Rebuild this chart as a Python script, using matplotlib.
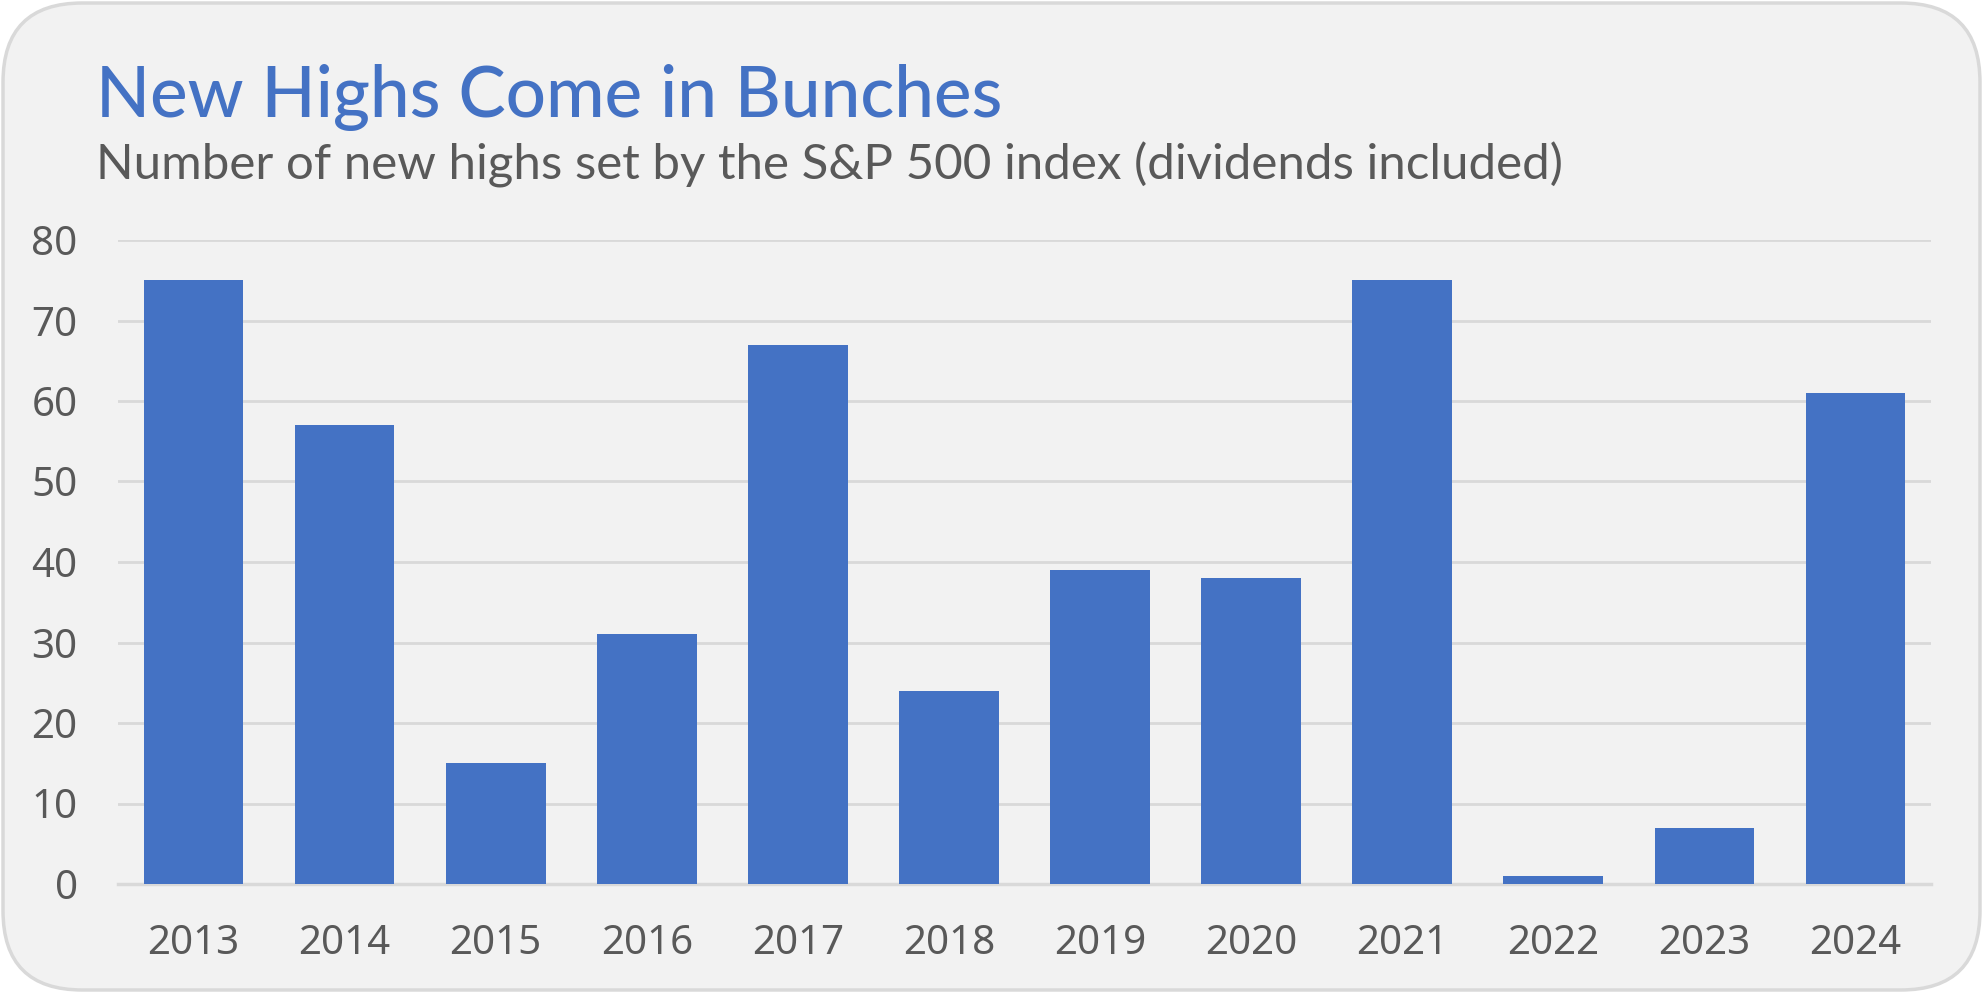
#!/usr/bin/env python3

import matplotlib
matplotlib.use('Agg')
import matplotlib.pyplot as plt
from matplotlib.patches import FancyBboxPatch

years = ['2013', '2014', '2015', '2016', '2017', '2018',
         '2019', '2020', '2021', '2022', '2023', '2024']
new_highs = [75, 57, 15, 31, 67, 24, 39, 38, 75, 1, 7, 61]
y_ticks = [0, 10, 20, 30, 40, 50, 60, 70, 80]

title = 'New Highs Come in Bunches'
subtitle = 'Number of new highs set by the S&P 500 index (dividends included)'

blue = '#4472c4'
grey_text = '#595959'
grid_grey = '#d9d9d9'

fig = plt.figure(figsize=(19.83, 9.93), dpi=100)
fig.patch.set_facecolor('white')

# rounded card behind everything
card = FancyBboxPatch(
    (3 / 1983, 3 / 993), 1977 / 1983, 987 / 993,
    boxstyle='round,pad=0,rounding_size=0.04',
    transform=fig.transFigure,
    facecolor='#f2f2f2', edgecolor=grid_grey, linewidth=2.5,
    mutation_aspect=1983 / 993, zorder=-10)
fig.patches.append(card)

ax = fig.add_axes([118 / 1983, 1 - 884 / 993, 1813 / 1983, 644 / 993])
ax.set_facecolor('none')
ax.set_zorder(5)

x = range(len(years))
ax.bar(x, new_highs, width=0.66, color=blue, zorder=3)

ax.set_xlim(-0.5, len(years) - 0.5)
ax.set_ylim(0, 80)
ax.set_yticks(y_ticks)
ax.set_xticks(list(x))
ax.set_xticklabels(years)

for spine in ax.spines.values():
    spine.set_visible(False)

ax.grid(axis='y', color=grid_grey, linewidth=2, zorder=0)
ax.set_axisbelow(True)
ax.axhline(0, color=grid_grey, linewidth=2.5, zorder=2, clip_on=False)

ax.tick_params(axis='both', length=0, labelcolor=grey_text, labelsize=29)
ax.tick_params(axis='y', pad=29)
ax.tick_params(axis='x', pad=29)
for lbl in ax.get_xticklabels() + ax.get_yticklabels():
    lbl.set_family(['Noto Sans', 'DejaVu Sans'])

fig.text(96 / 1983, 1 - 117 / 993, title, color=blue, fontsize=51,
         fontweight='medium', family=['Lato', 'DejaVu Sans'],
         ha='left', va='baseline')
fig.text(96 / 1983, 1 - 180 / 993, subtitle, color=grey_text, fontsize=35.5,
         family=['Lato', 'DejaVu Sans'], ha='left', va='baseline')

fig.savefig('out.png', dpi=100, facecolor=fig.get_facecolor())
